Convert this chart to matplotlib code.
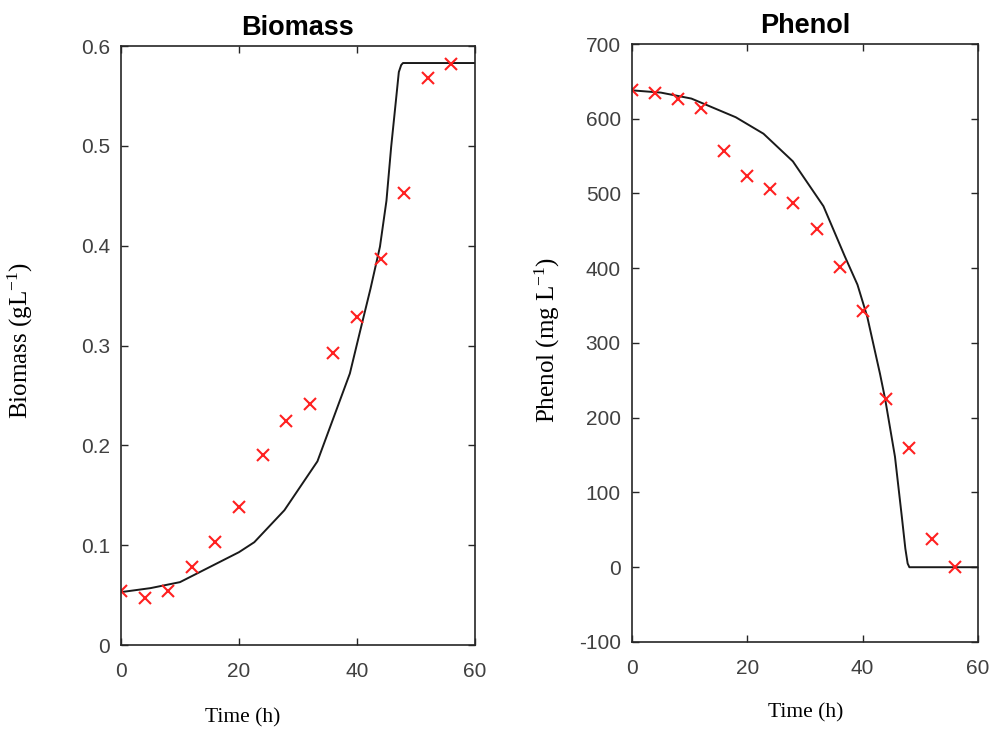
import matplotlib
matplotlib.use("Agg")
import matplotlib.pyplot as plt

plt.rcParams['mathtext.fontset'] = 'custom'
plt.rcParams['mathtext.rm'] = 'Liberation Serif'
plt.rcParams['mathtext.it'] = 'Liberation Serif:italic'

# measured data (every 4 h)
t_exp = [0, 4, 8, 12, 16, 20, 24, 28, 32, 36, 40, 44, 48, 52, 56]
biomass_exp = [0.054, 0.047, 0.054, 0.078, 0.103, 0.138, 0.190, 0.224, 0.241,
               0.293, 0.329, 0.387, 0.453, 0.568, 0.582]
phenol_exp = [639, 634, 627, 615, 557, 524, 506, 487, 452, 402, 343, 225, 160, 38, 0]

# model curves
t_bio = [0, 5, 10, 15, 20, 22.6, 27.7, 33.3, 38.8, 40.6, 42.3, 43.9, 45.0,
         45.8, 46.6, 47.1, 47.5, 47.8, 60]
biomass_mod = [0.053, 0.057, 0.063, 0.078, 0.093, 0.103, 0.135, 0.184, 0.272,
               0.316, 0.357, 0.399, 0.445, 0.499, 0.545, 0.574, 0.581, 0.583, 0.583]

t_phe = [0, 5, 10.3, 18.0, 22.8, 27.9, 33.2, 36.9, 39.1, 40.8, 43.0, 43.9,
         45.6, 46.8, 47.4, 47.8, 48.1, 60]
phenol_mod = [638, 635, 627, 602, 580, 543, 483, 416, 378, 335, 259, 225,
              148, 67, 25, 5, 0, 0]

axis_col = '#262626'
tick_col = '#404040'
serif = 'Liberation Serif'
sans = 'Liberation Sans'

fig = plt.figure(figsize=(9.94, 7.31), dpi=100)
ax1 = fig.add_axes([0.1217, 0.1176, 0.3561, 0.8194])
ax2 = fig.add_axes([0.6358, 0.1218, 0.3481, 0.818])


def style(ax, xt, yt, ylabels):
    ax.set_xticks(xt)
    ax.set_yticks(yt)
    ax.set_yticklabels(ylabels)
    ax.tick_params(direction='in', length=5, width=1, top=True, right=True,
                   labelsize=15, colors=axis_col, labelcolor=tick_col, pad=8)
    ax.tick_params(axis='x', pad=12)
    for lab in ax.get_xticklabels() + ax.get_yticklabels():
        lab.set_family(sans)
    for s in ax.spines.values():
        s.set_color(axis_col)
        s.set_linewidth(1.2)


ax1.plot(t_bio, biomass_mod, color='#1a1a1a', lw=1.4)
ax1.plot(t_exp, biomass_exp, 'x', color='#ff2020', ms=9, mew=1.5)
ax1.set_xlim(0, 60)
ax1.set_ylim(0, 0.6)
style(ax1, [0, 20, 40, 60], [0, 0.1, 0.2, 0.3, 0.4, 0.5, 0.6],
      ['0', '0.1', '0.2', '0.3', '0.4', '0.5', '0.6'])
ax1.set_title('Biomass', fontsize=19.5, fontweight='bold', family=sans, pad=8)
ax1.set_xlabel('Time (h)', fontsize=15.5, family=serif)
ax1.xaxis.set_label_coords(0.345, -0.105)
ax1.set_ylabel('Biomass (gL$^{-1}$)', fontsize=18, family=serif)
ax1.yaxis.set_label_coords(-0.243, 0.509)

ax2.plot(t_phe, phenol_mod, color='#1a1a1a', lw=1.4)
ax2.plot(t_exp, phenol_exp, 'x', color='#ff2020', ms=9, mew=1.5)
ax2.set_xlim(0, 60)
ax2.set_ylim(-100, 700)
yt = [-100, 0, 100, 200, 300, 400, 500, 600, 700]
style(ax2, [0, 20, 40, 60], yt, [str(v) for v in yt])
ax2.set_title('Phenol', fontsize=19.5, fontweight='bold', family=sans, pad=8)
ax2.set_xlabel('Time (h)', fontsize=15.5, family=serif)
ax2.xaxis.set_label_coords(0.503, -0.102)
ax2.set_ylabel('Phenol (mg L$^{-1}$)', fontsize=18, family=serif)
ax2.yaxis.set_label_coords(-0.202, 0.505)

fig.savefig('out.png', dpi=100)
